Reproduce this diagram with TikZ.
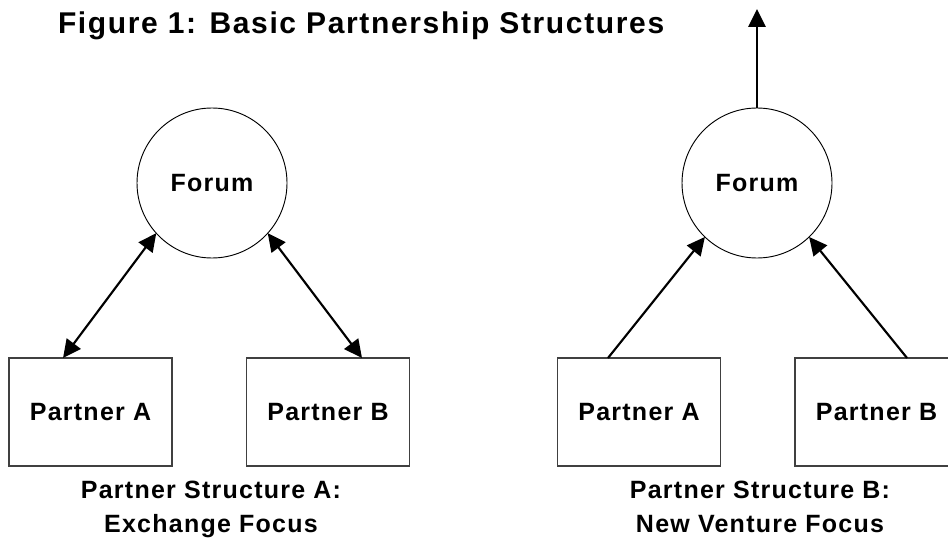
\documentclass[tikz,border=0pt]{standalone}
\usepackage{fontspec}
\usetikzlibrary{arrows.meta,calc}
\newfontfamily\lblfont{Liberation Sans}[LetterSpace=5,BoldFont={Liberation Sans Bold}]
\newfontfamily\ttlfont{Liberation Sans}[LetterSpace=5.5,BoldFont={Liberation Sans Bold}]
\tikzset{
  every node/.style={inner sep=0pt, outer sep=0pt},
  lbl/.style={font=\lblfont\bfseries\fontsize{18.75pt}{25.5pt}\selectfont},
  forumnode/.style={lbl, circle, draw=black, line width=0.7pt, minimum size=112.5pt},
  partnerbox/.style={lbl, rectangle, draw=black!75, line width=0.8pt, minimum width=122.25pt, minimum height=81pt},
  conn/.style={line width=1.6pt, -{Triangle[length=13.5pt,width=13pt]}},
  biconn/.style={line width=1.6pt, {Triangle[length=13.5pt,width=13pt]}-{Triangle[length=13.5pt,width=13pt]}},
  caption/.style={lbl, align=center, anchor=base}
}
\begin{document}
\begin{tikzpicture}[x=0.75pt,y=-0.75pt]
\useasboundingbox (0,0) rectangle (948,538);
\clip (0,0) rectangle (948,538);
\node[font=\ttlfont\bfseries\fontsize{22.5pt}{27pt}\selectfont, anchor=base west] (title) at (58,34) {Figure 1: Basic Partnership Structures};
% left structure
\node[forumnode] (fA) at (212,183) {Forum};
\node[partnerbox] (pA1) at (90.5,412) {Partner A};
\node[partnerbox] (pB1) at (328,412) {Partner B};
\draw[biconn] ([xshift=-20.6pt]pA1.north) -- (fA.222);
\draw[biconn] ([xshift=25.5pt]pB1.north) -- (fA.318);
\node[caption] (capA) at (211,532) {Partner Structure A:\\Exchange Focus};
% right structure
\node[forumnode] (fB) at (757,183) {Forum};
\node[partnerbox] (pA2) at (639,412) {Partner A};
\node[partnerbox] (pB2) at (876.5,412) {Partner B};
\coordinate (up) at (757,9);
\draw[conn] ([xshift=-23.25pt]pA2.north) -- (fB.226);
\draw[conn] ([xshift=22.9pt]pB2.north) -- (fB.314);
\draw[conn] (fB.north) -- (up);
\node[caption] (capB) at (760,532) {Partner Structure B:\\New Venture Focus};
\end{tikzpicture}
\end{document}
